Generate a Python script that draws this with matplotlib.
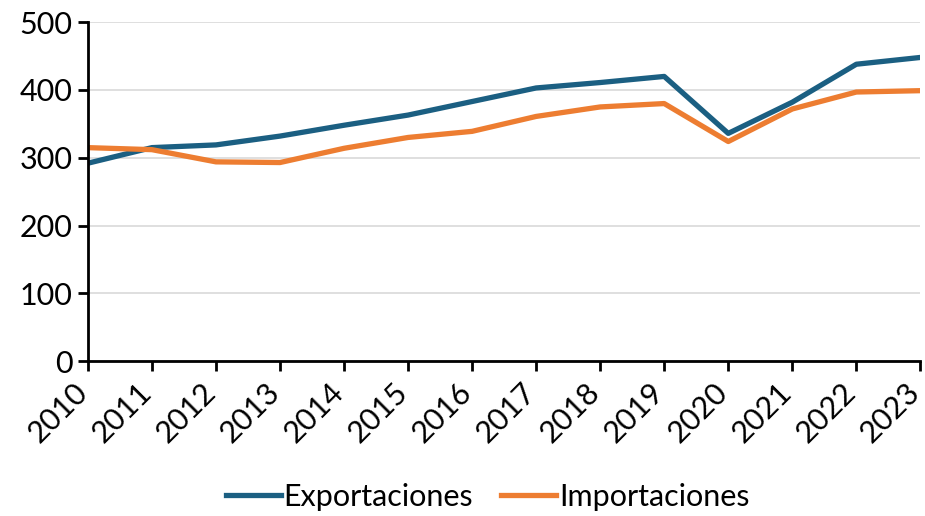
import matplotlib.pyplot as plt
from matplotlib.transforms import ScaledTranslation

# Datos
anios = [2010, 2011, 2012, 2013, 2014, 2015, 2016, 2017, 2018, 2019, 2020, 2021, 2022, 2023]
exportaciones = [292, 315, 319, 332, 348, 363, 383, 403, 411, 420, 336, 382, 438, 448]
importaciones = [315, 312, 294, 293, 314, 330, 339, 361, 375, 380, 324, 372, 397, 399]

plt.rcParams['font.family'] = ['Lato', 'DejaVu Sans']

fig = plt.figure(figsize=(9.25, 5.16), dpi=100)
ax = fig.add_axes([0.095, 0.30, 0.90, 0.657])

ax.plot(anios, exportaciones, color='#1B5F82', linewidth=3.8, label='Exportaciones')
ax.plot(anios, importaciones, color='#ED7D31', linewidth=3.8, label='Importaciones')

ax.set_xlim(2010, 2023)
ax.set_ylim(0, 500)
ax.set_xticks(anios)
ax.set_xticklabels([str(a) for a in anios], rotation=45, ha='right', va='center',
                   rotation_mode='anchor')
ax.set_yticks([0, 100, 200, 300, 400, 500])

ax.grid(axis='y', color='#d9d9d9', linewidth=1.2)
ax.set_axisbelow(True)
for s in ['top', 'right']:
    ax.spines[s].set_visible(False)
for s in ['left', 'bottom']:
    ax.spines[s].set_linewidth(2)
    ax.spines[s].set_color('black')
ax.tick_params(axis='both', direction='out', length=7, width=2, labelsize=22, pad=4)
ax.tick_params(axis='x', pad=12)

# desplazar un poco las etiquetas del eje x hacia la izquierda
desplazamiento = ScaledTranslation(-5 / 100, 0, fig.dpi_scale_trans)
for etiqueta in ax.get_xticklabels():
    etiqueta.set_transform(etiqueta.get_transform() + desplazamiento)

fig.legend(loc='center', bbox_to_anchor=(0.527, 0.037), ncol=2, frameon=False,
           fontsize=22, handlelength=1.8, handletextpad=0.1, columnspacing=0.9)

fig.savefig('out.png', dpi=100)
